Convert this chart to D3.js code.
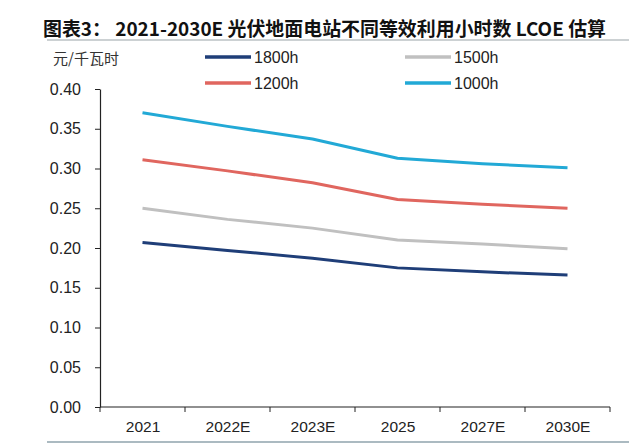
<!DOCTYPE html>
<html><head><meta charset="utf-8">
<script src="https://cdn.jsdelivr.net/npm/d3@7"></script>
<style>body{margin:0;background:#fff}svg{display:block}</style>
</head><body>
<svg id="c" width="640" height="447"></svg>
<script>
const categories = ["2021","2022E","2023E","2025","2027E","2030E"];
const s1800 = [0.207,0.197,0.187,0.175,0.170,0.166];
const s1500 = [0.250,0.236,0.225,0.210,0.205,0.199];
const s1200 = [0.311,0.297,0.282,0.261,0.255,0.250];
const s1000 = [0.370,0.353,0.337,0.313,0.306,0.301];
const yTicks = [0,0.05,0.10,0.15,0.20,0.25,0.30,0.35,0.40];
const seriesNames = ["1800h","1500h","1200h","1000h"];
const seriesColors = ["#1f3e78","#c0c0c0","#e0665f","#22a9d6"];
const seriesData = [s1800,s1500,s1200,s1000];

const svg = d3.select("#c");
const font = "Arial, 'Liberation Sans', sans-serif";
const x = d3.scalePoint().domain(categories).range([100,610]).padding(0.5);
const xb = d3.scaleBand().domain(categories).range([100,610]);
const y = d3.scaleLinear().domain([0,0.4]).range([407,89]);

// title
svg.append("text").attr("x",43).attr("y",36).attr("font-family","'Noto Sans CJK SC', sans-serif")
  .attr("font-weight","bold").attr("font-size",19).attr("fill","#111")
  .attr("textLength",563).attr("lengthAdjust","spacingAndGlyphs")
  .text("图表3：  2021-2030E 光伏地面电站不同等效利用小时数 LCOE 估算");
svg.append("line").attr("x1",47).attr("x2",629).attr("y1",40).attr("y2",40).attr("stroke","#9aa3a8").attr("stroke-width",1.2);
svg.append("line").attr("x1",47).attr("x2",629).attr("y1",442).attr("y2",442).attr("stroke","#8fa3ad").attr("stroke-width",1.5);

svg.append("text").attr("x",53).attr("y",64).attr("font-family","'Noto Sans CJK SC', sans-serif")
  .attr("font-size",15).attr("fill","#333").text("元/千瓦时");

// legend
const lg = [[205,57],[405,57],[205,83],[405,83]];
seriesNames.forEach((n,i)=>{
  const g = svg.append("g").attr("transform",`translate(${lg[i][0]},${lg[i][1]})`);
  g.append("line").attr("x1",0).attr("x2",46).attr("y1",0).attr("y2",0).attr("stroke",seriesColors[i]).attr("stroke-width",3.5);
  g.append("text").attr("x",49).attr("y",6).attr("font-family",font).attr("font-size",16).attr("fill","#222").text(n);
});

// y axis
const ya = svg.append("g").attr("transform","translate(100,0)")
  .call(d3.axisLeft(y).tickValues(yTicks).tickFormat(d3.format(".2f")).tickSize(5).tickSizeOuter(0));
ya.select(".domain").attr("stroke","#222").attr("stroke-width",1.2);
ya.selectAll(".tick line").attr("stroke","#222");
ya.selectAll("text").attr("font-family",font).attr("font-size",16).attr("fill","#222").attr("x",-19);

// x axis
const xa = svg.append("g").attr("transform","translate(0,407)")
  .call(d3.axisBottom(x).tickSize(0).tickSizeOuter(0));
xa.select(".domain").attr("stroke","#222").attr("stroke-width",1.2).attr("d","M100,0H610");
xa.selectAll("text").attr("font-family",font).attr("font-size",15.5).attr("fill","#222").attr("dy","1.45em");
const bounds = categories.map(c=>xb(c)).concat([610]);
xa.selectAll(".sep").data(bounds).enter().append("line").attr("class","sep")
  .attr("x1",d=>d).attr("x2",d=>d).attr("y1",0).attr("y2",5).attr("stroke","#222");

// lines
const line = d3.line().x((d,i)=>x(categories[i])).y(d=>y(d));
seriesData.forEach((s,i)=>{
  svg.append("path").datum(s).attr("d",line).attr("fill","none")
    .attr("stroke",seriesColors[i]).attr("stroke-width",3).attr("stroke-linejoin","round");
});
</script>
</body></html>
